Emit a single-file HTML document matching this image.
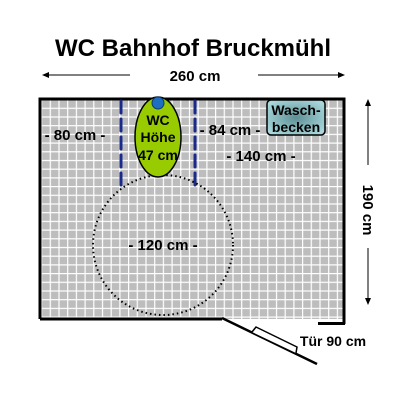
<!DOCTYPE html>
<html><head><meta charset="utf-8"><style>
html,body{margin:0;padding:0;background:#fff;}
svg{display:block;font-family:"Liberation Sans",Arial,sans-serif;font-weight:bold;}
</style></head><body>
<svg width="400" height="400" viewBox="0 0 400 400">
<defs>
<pattern id="grid" x="41" y="99" width="8.7" height="8.7" patternUnits="userSpaceOnUse">
<rect width="8.7" height="8.7" fill="#fff"/>
<rect x="1.2" y="1.2" width="7.5" height="7.5" fill="#bdbdbd"/>
</pattern>
<radialGradient id="sink" cx="0.5" cy="0.5" r="0.6"><stop offset="0" stop-color="#5e8f94"/><stop offset="1" stop-color="#a8d8dc"/></radialGradient>
</defs>
<text x="193" y="56" font-size="24" text-anchor="middle">WC Bahnhof Bruckmühl</text>
<g>
<line x1="44" y1="75" x2="130" y2="75" stroke="#000" stroke-width="1"/>
<path d="M42 75 L49 72 L49 78Z" fill="#000"/>
<line x1="258" y1="75" x2="343" y2="75" stroke="#000" stroke-width="1"/>
<path d="M345 75 L338 72 L338 78Z" fill="#000"/>
<text x="195" y="81" font-size="15" text-anchor="middle">260 cm</text>
</g>
<g>
<line x1="368" y1="102" x2="368" y2="165" stroke="#000" stroke-width="1"/>
<path d="M368 99 L365 106 L371 106Z" fill="#000"/>
<line x1="368" y1="248" x2="368" y2="302" stroke="#000" stroke-width="1"/>
<path d="M368 305 L365 298 L371 298Z" fill="#000"/>
<text x="0" y="0" font-size="15" text-anchor="middle" transform="translate(363 210) rotate(90)">190 cm</text>
</g>
<rect x="40" y="99" width="304" height="220" fill="url(#grid)"/>
<g stroke="#000" stroke-width="3" fill="none">
<path d="M40 319 L40 99 L344 99 L344 324"/>
<line x1="40" y1="319" x2="222" y2="319"/>
<line x1="318" y1="323.5" x2="345" y2="323.5"/>
</g>
<g>
<line x1="222" y1="318" x2="317" y2="364" stroke="#000" stroke-width="2.5"/>
<path d="M252 332 L256 327 L297 347 L296 353" fill="#fff" stroke="#000" stroke-width="1.5"/>
<text x="333" y="346" font-size="14" text-anchor="middle">Tür 90 cm</text>
</g>
<g stroke="#1a2a8a" stroke-width="3" stroke-dasharray="12 6" stroke-linecap="round" fill="none">
<line x1="121" y1="101" x2="121" y2="185"/>
<line x1="195" y1="101" x2="195" y2="185"/>
</g>
<circle cx="163" cy="245" r="70" fill="none" stroke="#000" stroke-width="2" stroke-dasharray="1.5 3"/>
<text x="163" y="250" font-size="15" text-anchor="middle">- 120 cm -</text>
<ellipse cx="158" cy="137" rx="23" ry="40" fill="#99cc00" stroke="#000" stroke-width="1.5"/>
<circle cx="158" cy="103" r="6" fill="#1f6fc0" stroke="#0c3a70" stroke-width="1"/>
<text font-size="14" text-anchor="middle"><tspan x="158" y="125">WC</tspan><tspan x="158" y="142">Höhe</tspan><tspan x="158" y="160">47 cm</tspan></text>
<rect x="267" y="100" width="58" height="35" rx="4" fill="url(#sink)" stroke="#000" stroke-width="1.5"/>
<text font-size="14" text-anchor="middle"><tspan x="296" y="115">Wasch-</tspan><tspan x="296" y="132">becken</tspan></text>
<text x="75" y="140" font-size="15" text-anchor="middle">- 80 cm -</text>
<text x="230" y="135" font-size="15" text-anchor="middle">- 84 cm -</text>
<text x="261" y="161" font-size="15" text-anchor="middle">- 140 cm -</text>
</svg>
</body></html>
